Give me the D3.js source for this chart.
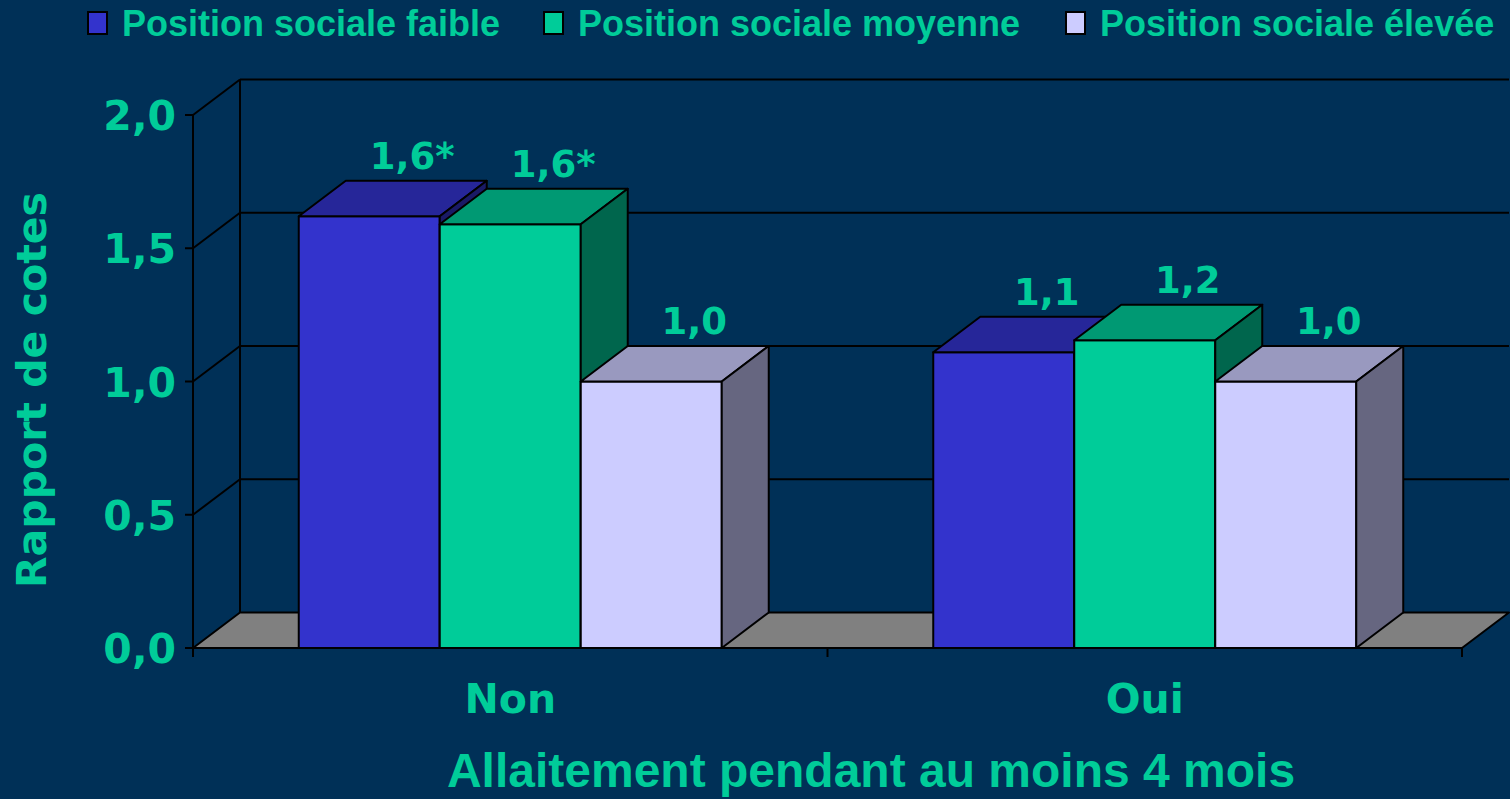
<!DOCTYPE html>
<html>
<head>
<meta charset="utf-8">
<script src="https://cdn.jsdelivr.net/npm/d3@7"></script>
<style>
    html, body { margin: 0; padding: 0; background: #003057; }
    svg { display: block; }
</style>
</head>
<body>
<div id="chart"></div>
<script>
    var categories = ['Non', 'Oui'];
    var seriesNames = ['Position sociale faible', 'Position sociale moyenne', 'Position sociale élevée'];
    var faible = [1.62, 1.11];
    var moyenne = [1.59, 1.155];
    var elevee = [1.0, 1.0];
    var valueLabels = [['1,6*', '1,1'], ['1,6*', '1,2'], ['1,0', '1,0']];
    var yTicks = [0, 0.5, 1.0, 1.5, 2.0];
    var yTickLabels = ['0,0', '0,5', '1,0', '1,5', '2,0'];

    var width = 1510,
        height = 799,
        plot = {left: 193, right: 1462, top: 115, bottom: 648},
        depth = {dx: 47, dy: -35.5},
        textColor = '#00cc99',
        font = '"DejaVu Sans", Verdana, sans-serif',
        legendFont = '"Liberation Sans", Arial, sans-serif';

    // front, top, side colours for each series
    var palette = [
        {front: '#3333cc', top: '#262699', side: '#1a1a66'},
        {front: '#00cc99', top: '#009973', side: '#00664d'},
        {front: '#ccccff', top: '#9999bf', side: '#666680'}
    ];

    var seriesValues = [faible, moyenne, elevee];

    var svg = d3.select('#chart').append('svg')
        .attr('width', width)
        .attr('height', height);

    svg.append('rect')
        .attr('width', width)
        .attr('height', height)
        .attr('fill', '#003057');

    var y = d3.scaleLinear().domain([0, 2]).range([plot.bottom, plot.top]);
    var x0 = d3.scaleBand().domain(categories).range([plot.left, plot.right]).padding(0);
    var bw = x0.bandwidth(),
        gap = bw * 0.75 / 4.5;
    var x1 = d3.scaleBand().domain(d3.range(seriesNames.length)).range([gap, bw - gap]).padding(0);

    var line = function (g, x1p, y1p, x2p, y2p) {
        g.append('line')
            .attr('x1', x1p).attr('y1', y1p)
            .attr('x2', x2p).attr('y2', y2p)
            .attr('stroke', '#000')
            .attr('stroke-width', 2);
    };

    var grid = svg.append('g');

    // floor
    grid.append('path')
        .attr('d', 'M' + [plot.left, y(0)] + 'L' + [plot.right, y(0)] +
            'L' + [plot.right + depth.dx, y(0) + depth.dy] +
            'L' + [plot.left + depth.dx, y(0) + depth.dy] + 'Z')
        .attr('fill', '#808080')
        .attr('stroke', '#000')
        .attr('stroke-width', 2)
        .attr('stroke-linejoin', 'round');

    // back wall gridlines and side wall diagonals
    yTicks.forEach(function (t) {
        var yy = y(t);
        if (t > 0) {
            line(grid, plot.left + depth.dx, yy + depth.dy, plot.right + depth.dx, yy + depth.dy);
            line(grid, plot.left, yy, plot.left + depth.dx, yy + depth.dy);
        }
        line(grid, plot.left - 8, yy, plot.left, yy);
    });
    line(grid, plot.left + depth.dx, y(0) + depth.dy, plot.left + depth.dx, y(2) + depth.dy);
    line(grid, plot.left, y(0) + 9, plot.left, y(2));

    // x axis with category ticks
    line(grid, plot.left, y(0), plot.right, y(0));
    [plot.left, plot.left + bw, plot.right].forEach(function (xx) {
        line(grid, xx, y(0), xx, y(0) + 9);
    });

    // bars, left to right so later fronts hide earlier sides
    var bars = svg.append('g')
        .attr('stroke', '#000')
        .attr('stroke-width', 2)
        .attr('stroke-linejoin', 'round');

    categories.forEach(function (cat, ci) {
        seriesValues.forEach(function (vals, si) {
            var xl = x0(cat) + x1(si),
                xr = xl + x1.bandwidth(),
                yt = y(vals[ci]),
                yb = y(0),
                c = palette[si];

            bars.append('rect')
                .attr('x', xl).attr('y', yt)
                .attr('width', xr - xl).attr('height', yb - yt)
                .attr('fill', c.front);
            bars.append('path')
                .attr('d', 'M' + [xl, yt] + 'L' + [xr, yt] + 'L' + [xr + depth.dx, yt + depth.dy] +
                    'L' + [xl + depth.dx, yt + depth.dy] + 'Z')
                .attr('fill', c.top);
            bars.append('path')
                .attr('d', 'M' + [xr, yt] + 'L' + [xr + depth.dx, yt + depth.dy] +
                    'L' + [xr + depth.dx, yb + depth.dy] + 'L' + [xr, yb] + 'Z')
                .attr('fill', c.side);
        });
    });

    // value labels
    var labels = svg.append('g')
        .attr('font-family', font)
        .attr('font-weight', 'bold')
        .attr('font-size', 37)
        .attr('fill', textColor)
        .attr('text-anchor', 'middle');

    categories.forEach(function (cat, ci) {
        seriesValues.forEach(function (vals, si) {
            labels.append('text')
                .attr('x', x0(cat) + x1(si) + x1.bandwidth() / 2 + depth.dx - 4)
                .attr('y', y(vals[ci]) + depth.dy - 12)
                .text(valueLabels[si][ci]);
        });
    });

    // y tick labels
    svg.append('g')
        .attr('font-family', font)
        .attr('font-weight', 'bold')
        .attr('font-size', 41)
        .attr('fill', textColor)
        .attr('text-anchor', 'end')
        .selectAll('text')
        .data(yTicks)
        .join('text')
        .attr('x', 176)
        .attr('y', function (d) { return y(d) + 15; })
        .text(function (d, i) { return yTickLabels[i]; });

    // category labels
    svg.append('g')
        .attr('font-family', font)
        .attr('font-weight', 'bold')
        .attr('font-size', 41)
        .attr('fill', textColor)
        .attr('text-anchor', 'middle')
        .selectAll('text')
        .data(categories)
        .join('text')
        .attr('x', function (d) { return x0(d) + bw / 2; })
        .attr('y', 713)
        .text(function (d) { return d; });

    // axis titles
    svg.append('text')
        .attr('transform', 'translate(46,390) rotate(-90)')
        .attr('font-family', font)
        .attr('font-weight', 'bold')
        .attr('font-size', 41)
        .attr('fill', textColor)
        .attr('text-anchor', 'middle')
        .text('Rapport de cotes');

    svg.append('text')
        .attr('x', 871)
        .attr('y', 787)
        .attr('font-family', legendFont)
        .attr('font-weight', 'bold')
        .attr('font-size', 48)
        .attr('fill', textColor)
        .attr('text-anchor', 'middle')
        .text('Allaitement pendant au moins 4 mois');

    // legend
    var legendX = [88, 544, 1066];
    var legend = svg.append('g');
    seriesNames.forEach(function (name, i) {
        legend.append('rect')
            .attr('x', legendX[i]).attr('y', 12)
            .attr('width', 19).attr('height', 22)
            .attr('fill', palette[i].front)
            .attr('stroke', '#000')
            .attr('stroke-width', 2);
        legend.append('text')
            .attr('x', legendX[i] + 34)
            .attr('y', 36)
            .attr('font-family', legendFont)
            .attr('font-weight', 'bold')
            .attr('font-size', 36)
            .attr('fill', textColor)
            .text(name);
    });
</script>
</body>
</html>
